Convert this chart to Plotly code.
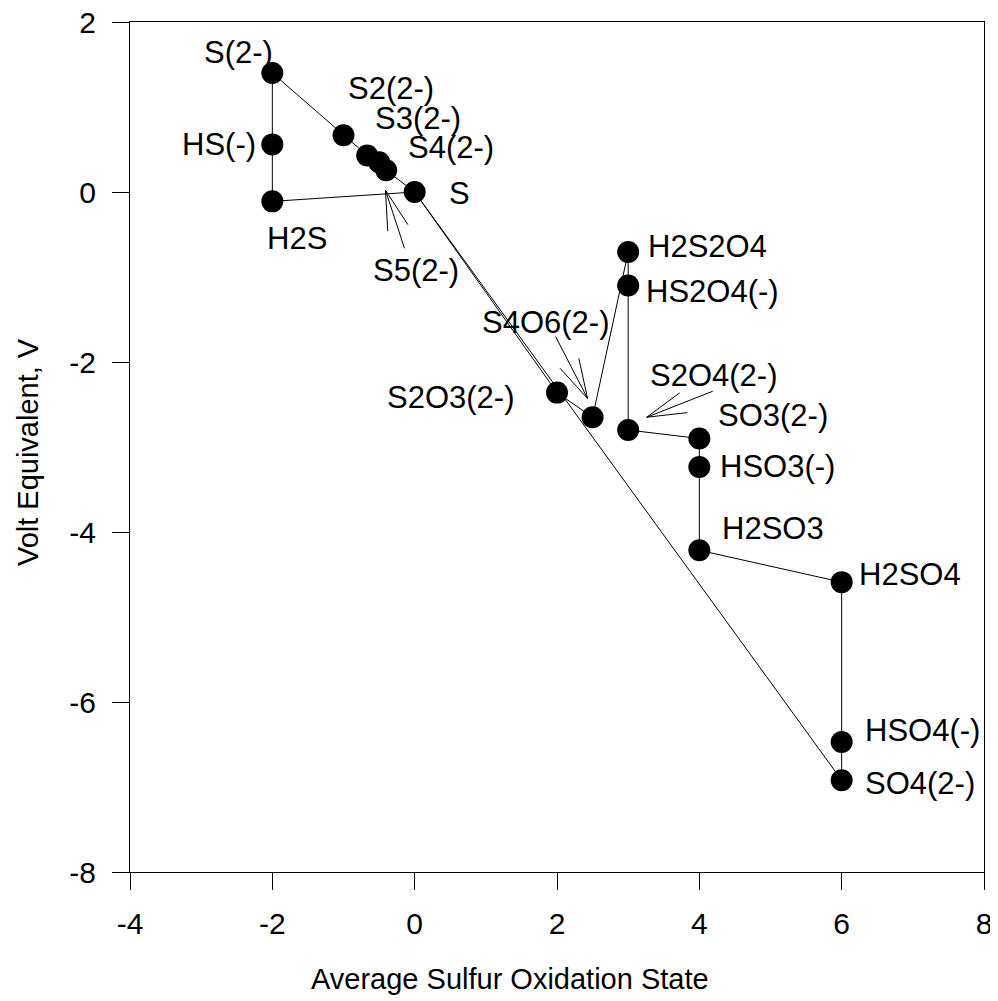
import math
import plotly.graph_objects as go

# ---- data ----
species = ["S(2-)", "HS(-)", "H2S", "S2(2-)", "S3(2-)", "S4(2-)", "S5(2-)", "S",
           "S2O3(2-)", "S4O6(2-)", "H2S2O4", "HS2O4(-)", "S2O4(2-)",
           "SO3(2-)", "HSO3(-)", "H2SO3", "H2SO4", "HSO4(-)", "SO4(2-)"]
ox_state = [-2, -2, -2, -1, -0.667, -0.5, -0.4, 0,
            2, 2.5, 3, 3, 3,
            4, 4, 4, 6, 6, 6]
volt_eq = [1.40, 0.56, -0.11, 0.667, 0.43, 0.35, 0.255, 0.0,
           -2.36, -2.65, -0.706, -1.10, -2.80,
           -2.90, -3.235, -4.215, -4.59, -6.47, -6.92]

x_ticks = [-4, -2, 0, 2, 4, 6, 8]
x_ticktext = ["-4", "-2", "0", "2", "4", "6", "8"]
y_ticks = [-8, -6, -4, -2, 0, 2]
y_ticktext = ["-8", "-6", "-4", "-2", "0", "2"]

# connecting paths (by species name)
paths = [
    ["S(2-)", "HS(-)", "H2S"],
    ["H2S", "S"],
    ["S(2-)", "S2(2-)", "S3(2-)", "S4(2-)", "S5(2-)", "S"],
    ["S", "S2O3(2-)", "S4O6(2-)", "H2S2O4", "HS2O4(-)", "S2O4(2-)", "SO3(2-)",
     "HSO3(-)", "H2SO3", "H2SO4", "HSO4(-)", "SO4(2-)"],
    ["S", "SO4(2-)"],
]

# direct labels: species -> (xshift, yshift) in px
label_offsets = {
    "S(2-)": (-34, 21), "HS(-)": (-53, 0), "H2S": (25, -37),
    "S2(2-)": (47, 47), "S3(2-)": (51, 37), "S4(2-)": (72, 15), "S": (45, -1),
    "S2O3(2-)": (-107, -5), "H2S2O4": (79, 6), "HS2O4(-)": (84, -6),
    "SO3(2-)": (74, 23), "HSO3(-)": (78, 0), "H2SO3": (74, 22),
    "H2SO4": (68, 8), "HSO4(-)": (81, 11), "SO4(2-)": (78, -3),
}

# arrow-labelled species: label, tip x, tip y, shaft end (px right, px down), label centre (px right, px down)
arrow_labels = ["S5(2-)", "S4O6(2-)", "S2O4(2-)"]
arrow_tip_x = [-0.41, 2.43, 3.26]
arrow_tip_y = [0.02, -2.43, -2.65]
arrow_shaft = [(19, 58), (-32, -62), (66, -26)]
arrow_text = [(31, 80), (-42, -76), (67, -42)]

FONT = "Liberation Sans, Arial, Helvetica, sans-serif"

lookup = {n: (x, y) for n, x, y in zip(species, ox_state, volt_eq)}
lx, ly = [], []
for p in paths:
    for n in p:
        lx.append(lookup[n][0])
        ly.append(lookup[n][1])
    lx.append(None)
    ly.append(None)

fig = go.Figure()
fig.add_trace(go.Scatter(x=lx, y=ly, mode="lines",
                         line=dict(color="black", width=1), hoverinfo="skip",
                         showlegend=False))
fig.add_trace(go.Scatter(x=ox_state, y=volt_eq, mode="markers", text=species,
                         marker=dict(color="black", size=22),
                         showlegend=False))

annotations = []
for n, (dx, dy) in label_offsets.items():
    x, y = lookup[n]
    annotations.append(dict(x=x, y=y, xref="x", yref="y", text=n, showarrow=False,
                            xshift=dx, yshift=dy, xanchor="center", yanchor="middle",
                            font=dict(family=FONT, size=31, color="black")))

shapes = []
head_len = 41
half_ang = math.radians(15)
for lab, tx, ty, (sx, sy), (cx, cy) in zip(arrow_labels, arrow_tip_x, arrow_tip_y,
                                            arrow_shaft, arrow_text):
    annotations.append(dict(x=tx, y=ty, xref="x", yref="y", text=lab, showarrow=False,
                            xshift=cx, yshift=-cy, xanchor="center", yanchor="middle",
                            font=dict(family=FONT, size=31, color="black")))
    ang = math.atan2(sy, sx)
    segs = [(sx, sy)]
    for s in (-1, 1):
        a = ang + s * half_ang
        segs.append((head_len * math.cos(a), head_len * math.sin(a)))
    for ex, ey in segs:
        shapes.append(dict(type="line", xref="x", yref="y",
                           xsizemode="pixel", ysizemode="pixel",
                           xanchor=tx, yanchor=ty, x0=0, y0=0, x1=ex, y1=-ey,
                           line=dict(color="black", width=1)))

# axis titles
annotations.append(dict(x=0.445, y=0, xref="paper", yref="paper", yshift=-107,
                        text="Average Sulfur Oxidation State", showarrow=False,
                        xanchor="center", yanchor="middle",
                        font=dict(family=FONT, size=29, color="black")))
annotations.append(dict(x=0, y=0.494, xref="paper", yref="paper", xshift=-102,
                        text="Volt Equivalent, V", showarrow=False, textangle=-90,
                        xanchor="center", yanchor="middle",
                        font=dict(family=FONT, size=29, color="black")))

axis_common = dict(showline=True, linecolor="black", linewidth=1, mirror=True,
                   ticks="outside", ticklen=17, tickwidth=1, tickcolor="black",
                   showgrid=False, zeroline=False, automargin=False,
                   ticklabeloverflow="allow",
                   tickfont=dict(family=FONT, size=30, color="black"))

# page body has an 8px margin, so the figure is offset by (8, 8)
fig.update_layout(
    width=990, height=993,
    margin=dict(l=122, r=14, t=14, b=129),
    plot_bgcolor="white", paper_bgcolor="white",
    xaxis=dict(range=[-4, 8], tickmode="array", tickvals=x_ticks, ticktext=x_ticktext,
               ticklabelstandoff=8, **axis_common),
    yaxis=dict(range=[-8, 2], tickmode="array", tickvals=y_ticks, ticktext=y_ticktext,
               ticklabelstandoff=10, **axis_common),
    annotations=annotations,
    shapes=shapes,
    showlegend=False,
)

fig.write_html("out.html")
